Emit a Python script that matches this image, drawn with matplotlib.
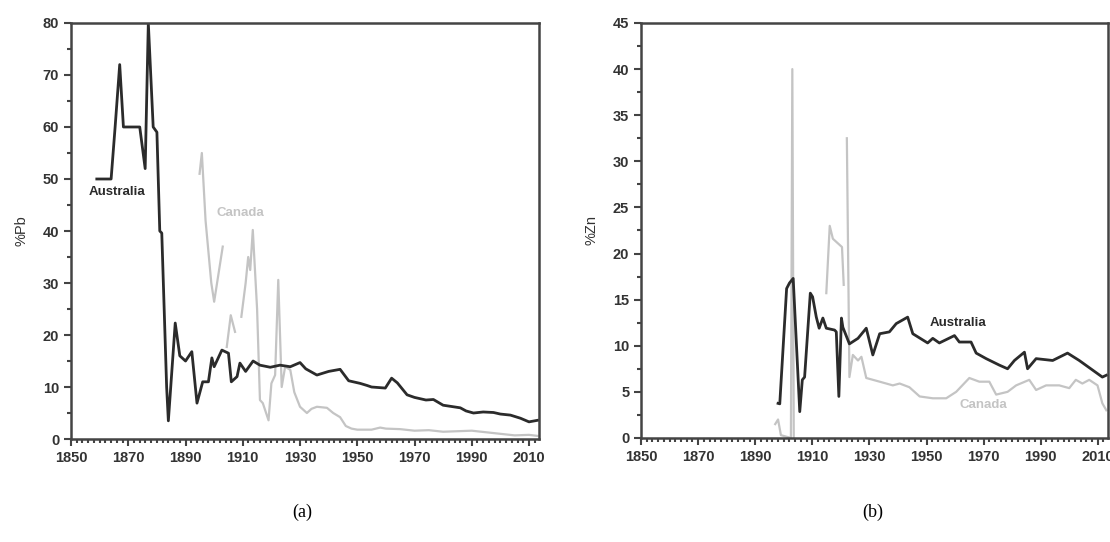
import numpy as np
import matplotlib.pyplot as plt
from matplotlib.ticker import MultipleLocator

# --- (a) lead grade, %Pb ---
pb_aus_year = [1859, 1864, 1865.4, 1867, 1868.3, 1874, 1875.9, 1877, 1878.7, 1880, 1881, 1881.7,
               1883.4, 1884, 1886.4, 1888, 1890, 1892.2, 1894, 1896, 1898, 1899.2, 1900, 1902.7,
               1905, 1906, 1908, 1909, 1911, 1913.6, 1916, 1919.6, 1923, 1926.6, 1930, 1932,
               1935.9, 1940, 1944, 1947, 1951, 1953.4, 1955, 1959.8, 1962, 1964, 1967.4, 1970,
               1974, 1976.6, 1980, 1983.6, 1986, 1988, 1990.6, 1994, 1997.6, 2000, 2003.5,
               2007, 2010, 2013]
pb_aus = [50, 50, 60, 72, 60, 60, 52, 80, 60, 59, 40, 39.6,
          10, 3.5, 22.3, 16, 15, 16.8, 6.9, 11, 11, 15.6, 13.9, 17.1,
          16.5, 11, 12, 14.6, 13, 15, 14.2, 13.8, 14.2, 13.9, 14.7, 13.5,
          12.3, 13, 13.4, 11.2, 10.7, 10.3, 10, 9.8, 11.7, 10.8, 8.5, 8,
          7.5, 7.6, 6.5, 6.2, 6, 5.4, 5, 5.2, 5.1, 4.8, 4.6,
          4, 3.3, 3.6]

pb_can_year = [1894.9, 1895.7, 1897, 1899, 1900, 1903, None,
               1904.4, 1905.8, 1907.3, None,
               1909.5, 1911, 1911.9, 1912.6, 1913.5, 1915, 1916, 1917, 1919, 1920, 1921.3,
               1922.4, 1923.6, 1924.8, 1926.6, 1928, 1930, 1932.4, 1934, 1935.9, 1939.4,
               1941.6, 1944, 1946, 1948, 1950, 1955, 1958, 1960, 1965, 1970, 1975, 1980,
               1985, 1990, 1995, 2000, 2005, 2010, 2013]
pb_can = [51, 55, 42, 30, 26.4, 37, None,
          17.7, 23.8, 20.6, None,
          23.5, 30, 35, 32.5, 40.2, 25, 7.5, 6.9, 3.6, 10.7, 12.3,
          30.6, 10, 13.9, 13.3, 9, 6.2, 5, 5.8, 6.2, 6,
          5, 4.2, 2.5, 2, 1.8, 1.8, 2.2, 2, 1.9, 1.6, 1.7, 1.4,
          1.5, 1.6, 1.3, 1.0, 0.7, 0.8, 0.6]

# --- (b) zinc grade, %Zn ---
zn_aus_year = [1898, 1898.6, 1901, 1902, 1903.3, 1905.6, 1906.5, 1907.3, 1909.3, 1910.1,
               1911.4, 1912.4, 1913.7, 1914.9, 1917.8, 1918.4, 1919.3, 1920.2, 1920.7, 1923,
               1926, 1928.9, 1931.2, 1933.6, 1937, 1939.4, 1943.4, 1945.2, 1950.4, 1952.2,
               1954.5, 1959.8, 1961.5, 1965.6, 1967.4, 1970.9, 1975.5, 1978.4, 1980.8,
               1984.3, 1985.4, 1988.4, 1994.2, 1999.4, 2003.5, 2008, 2011.6, 2013]
zn_aus = [3.75, 3.7, 16.2, 16.8, 17.3, 2.85, 6.3, 6.6, 15.7, 15.3,
          13.1, 11.9, 13, 11.9, 11.7, 11.5, 4.5, 13, 12, 10.2,
          10.8, 11.9, 9.0, 11.3, 11.5, 12.4, 13.1, 11.3, 10.3, 10.8,
          10.3, 11.1, 10.4, 10.4, 9.2, 8.6, 7.9, 7.5, 8.4,
          9.3, 7.5, 8.6, 8.4, 9.2, 8.4, 7.4, 6.6, 6.8]

zn_can_year = [1897, 1898, 1899, 1902.5, 1903, 1903.5, None,
               1914.9, 1916.1, 1917.2, 1920.4, 1921, None,
               1922.1, 1923, 1924.2, 1926, 1927.2, 1928.9, 1933.6, 1938.2, 1940.6, 1944,
               1947.6, 1952.2, 1956.9, 1960.4, 1965, 1968.5, 1972, 1974.4, 1978.4, 1981.4,
               1986, 1988.4, 1991.9, 1996.5, 2000, 2002.3, 2004.6, 2007, 2009.9, 2011.6, 2013]
zn_can = [1.5, 2.0, 0.3, 0, 40, 0, None,
          15.7, 23, 21.6, 20.7, 16.6, None,
          32.5, 6.6, 9.0, 8.4, 8.8, 6.5, 6.1, 5.7, 5.9, 5.5,
          4.5, 4.3, 4.3, 5.0, 6.5, 6.1, 6.1, 4.7, 5.0, 5.7,
          6.3, 5.2, 5.7, 5.7, 5.4, 6.3, 5.9, 6.3, 5.7, 3.75, 3.0]

year_ticks = [1850, 1870, 1890, 1910, 1930, 1950, 1970, 1990, 2010]

DARK = '#2b2b2b'
LIGHT = '#c4c4c4'
AXC = '#444444'


def seg(xs, ys):
    # None marks a break in the series
    x = np.array([np.nan if v is None else v for v in xs], dtype=float)
    y = np.array([np.nan if v is None else v for v in ys], dtype=float)
    return x, y


def style_axes(ax, ymax, ymajor, yminor, ylabel):
    ax.set_xlim(1850, 2013.5)
    ax.set_ylim(0, ymax)
    ax.set_xticks(year_ticks)
    ax.xaxis.set_minor_locator(MultipleLocator(2))
    ax.yaxis.set_major_locator(MultipleLocator(ymajor))
    ax.yaxis.set_minor_locator(MultipleLocator(yminor))
    for s in ax.spines.values():
        s.set_color(AXC)
        s.set_linewidth(1.8)
    ax.tick_params(which='both', direction='out', colors=AXC, top=False, right=False,
                   width=1.5, labelsize=10.5, labelcolor='#333333')
    ax.tick_params(which='major', length=5)
    ax.tick_params(which='minor', length=3)
    for lab in ax.get_xticklabels() + ax.get_yticklabels():
        lab.set_fontweight('bold')
    ax.set_ylabel(ylabel, fontsize=10.5, color='#333333', labelpad=10)


plt.rcParams['font.family'] = ['Liberation Sans', 'DejaVu Sans']
fig = plt.figure(figsize=(11.1, 5.42), dpi=100)

ax1 = fig.add_axes([0.064, 0.19, 0.4216, 0.7676])
x, y = seg(pb_can_year, pb_can)
ax1.plot(x, y, color=LIGHT, lw=1.6)
x, y = seg(pb_aus_year, pb_aus)
ax1.plot(x, y, color=DARK, lw=2)
style_axes(ax1, 80, 10, 5, '%Pb')
ax1.text(1866, 47.5, 'Australia', fontsize=9.5, fontweight='bold', color=DARK, ha='center', va='center')
ax1.text(1909, 43.5, 'Canada', fontsize=9.5, fontweight='bold', color=LIGHT, ha='center', va='center')

ax2 = fig.add_axes([0.5775, 0.192, 0.4205, 0.7656])
x, y = seg(zn_can_year, zn_can)
ax2.plot(x, y, color=LIGHT, lw=1.6)
x, y = seg(zn_aus_year, zn_aus)
ax2.plot(x, y, color=DARK, lw=2)
style_axes(ax2, 45, 5, 2.5, '%Zn')
ax2.text(1961, 12.5, 'Australia', fontsize=9.5, fontweight='bold', color=DARK, ha='center', va='center')
ax2.text(1970, 3.6, 'Canada', fontsize=9.5, fontweight='bold', color=LIGHT, ha='center', va='center')

fig.text(0.272, 0.055, '(a)', fontsize=13, family='Liberation Serif', ha='center', va='center')
fig.text(0.786, 0.055, '(b)', fontsize=13, family='Liberation Serif', ha='center', va='center')

fig.savefig('out.png', dpi=100)
